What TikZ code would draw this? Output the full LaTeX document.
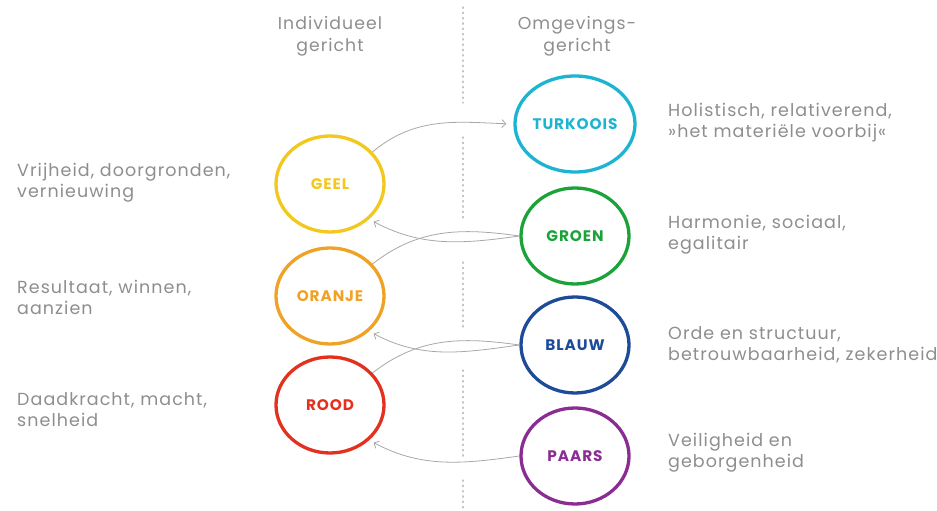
\documentclass[tikz,border=0pt]{standalone}
\usepackage{fontspec}
\setmainfont{Poppins}
\newfontfamily\descfont{Poppins}[LetterSpace=6]
\newfontfamily\labfont{Poppins}[LetterSpace=6]
\usetikzlibrary{arrows.meta,shapes.geometric}
\definecolor{txtgray}{HTML}{8E8E8E}
\definecolor{arrgray}{HTML}{A8A8A8}
\definecolor{dotgray}{HTML}{C4C4C4}
\definecolor{cgeel}{HTML}{F2C81E}
\definecolor{coranje}{HTML}{F0A224}
\definecolor{crood}{HTML}{E3301F}
\definecolor{cturk}{HTML}{1DB4D2}
\definecolor{cgroen}{HTML}{1BA33A}
\definecolor{cblauw}{HTML}{1E4B98}
\definecolor{cpaars}{HTML}{8A2D93}
\tikzset{
  meme/.style={ellipse, draw=#1, line width=3.3pt, minimum width=108pt, minimum height=96pt,
    text=#1, font=\labfont\fontsize{15.3}{17}\selectfont\bfseries, inner sep=0pt},
  desc/.style={anchor=west, align=left, text=txtgray, inner sep=0pt,
    font=\descfont\fontsize{17.5}{21}\selectfont},
  head/.style={align=center, text=txtgray, inner sep=0pt, font=\descfont\fontsize{17.3}{22}\selectfont},
  conn/.style={draw=arrgray, line width=0.8pt},
  tip/.style={-{Straight Barb[length=4pt,width=8pt]}},
  sep/.style={draw=dotgray, line width=1.3pt, dash pattern=on 1.3pt off 4pt, line cap=round}
}
\begin{document}
\begin{tikzpicture}[x=1pt,y=1pt]
\useasboundingbox (0,0) rectangle (937,511);
% dotted separator
\foreach \a/\b in {504/408, 374/291, 249/184, 141/54, 31/0}
  \draw[sep] (463,\a) -- (463,\b);
% headings
\node[head] (hl) at (330,475) {Individueel\\gericht};
\node[head] (hr) at (577,475) {Omgevings-\\gericht};
% circles
\node[meme=cgeel]   (geel)   at (330,327) {GEEL};
\node[meme=coranje] (oranje) at (330,215) {ORANJE};
\node[meme=crood]   (rood)   at (330,106) {ROOD};
\node[meme=cturk]   (turk)   at (575,387) {TURKOOIS};
\node[meme=cgroen]  (groen)  at (575,275) {GROEN};
\node[meme=cblauw]  (blauw)  at (575,166) {BLAUW};
\node[meme=cpaars]  (paars)  at (575,55)  {PAARS};
% descriptions
\node[desc] (dgeel)   at (17,328) {Vrijheid, doorgronden,\\vernieuwing};
\node[desc] (doranje) at (17,214) {Resultaat, winnen,\\aanzien};
\node[desc] (drood)   at (17,101) {Daadkracht, macht,\\snelheid};
\node[desc] (dturk)   at (668,388) {Holistisch, relativerend,\\»het materiële voorbij«};
\node[desc] (dgroen)  at (668,276) {Harmonie, sociaal,\\egalitair};
\node[desc] (dblauw)  at (668,166) {Orde en structuur,\\betrouwbaarheid, zekerheid};
\node[desc] (dpaars)  at (668,58)  {Veiligheid en\\geborgenheid};
% connectors
\draw[conn,tip,shorten >=7pt] (geel.37) to[out=40,in=178] (turk.west);
\draw[conn,tip,shorten >=5pt] (groen.west) to[out=188,in=-28] (geel.-42);
\draw[conn] (oranje.37) to[out=38,in=172] (groen.west);
\draw[conn,tip,shorten >=5pt] (blauw.west) to[out=188,in=-28] (oranje.-42);
\draw[conn] (rood.37) to[out=38,in=172] (blauw.west);
\draw[conn,tip,shorten >=5pt] (paars.west) to[out=188,in=-28] (rood.-42);
\end{tikzpicture}
\end{document}
